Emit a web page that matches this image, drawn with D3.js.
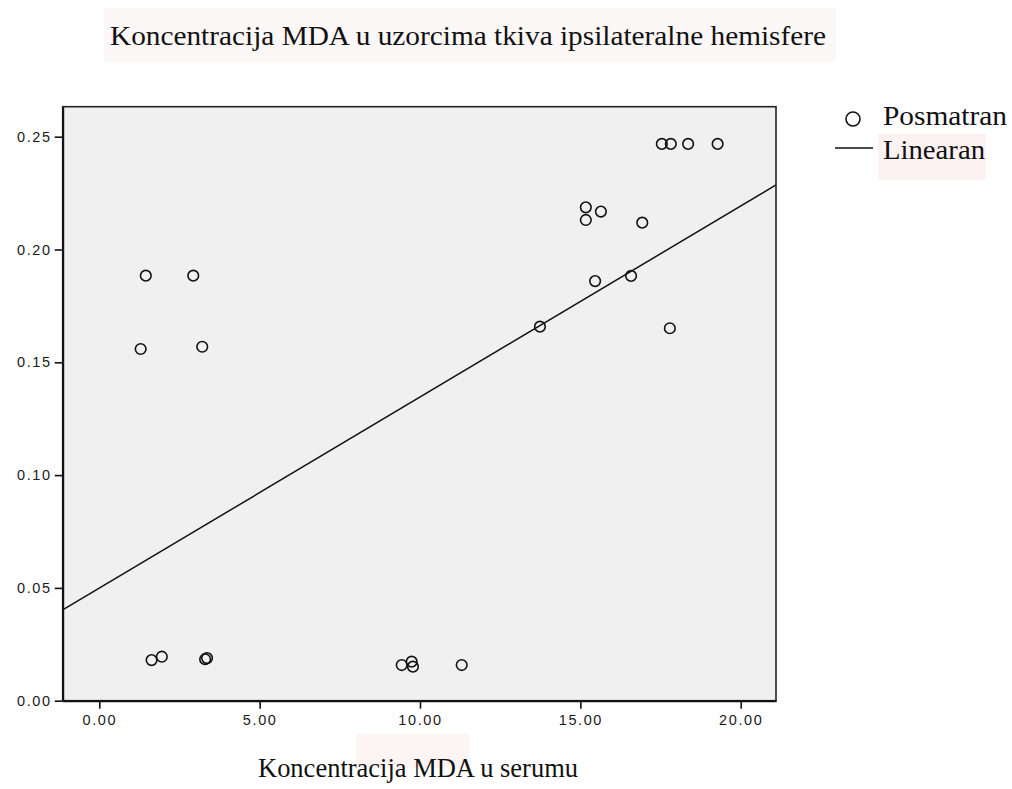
<!DOCTYPE html>
<html>
<head>
<meta charset="utf-8">
<script src="https://cdn.jsdelivr.net/npm/d3@7/dist/d3.min.js"></script>
<style>
  html, body { margin: 0; padding: 0; background: #ffffff; }
  svg { display: block; }
</style>
</head>
<body>
<svg id="chart" width="1012" height="789"></svg>
<script>
// Serum MDA (x) vs. tissue MDA in the ipsilateral hemisphere (y)
const serumMDA = [1.45, 2.93, 1.29, 3.21, 1.63, 1.95, 3.30, 3.36,
                  9.43, 9.74, 9.78, 11.30, 13.74, 15.17, 15.17, 15.64,
                  15.46, 16.58, 16.93, 17.79, 17.54, 17.82, 18.36, 19.28];
const tissueMDA = [0.1884, 0.1884, 0.1559, 0.1569, 0.0180, 0.0195, 0.0184, 0.0189,
                   0.0158, 0.0173, 0.0151, 0.0158, 0.1658, 0.2187, 0.2131, 0.2168,
                   0.1860, 0.1883, 0.2119, 0.1651, 0.2468, 0.2468, 0.2468, 0.2468];

// Linear fit shown on the plot
const fitIntercept = 0.0499;
const fitSlope = 0.00847;

const xTicks = [0, 5, 10, 15, 20];
const yTicks = [0, 0.05, 0.10, 0.15, 0.20, 0.25];
const xDomain = [-1.141, 21.10];
const yDomain = [0, 0.2633];

const titleText = "Koncentracija MDA u uzorcima tkiva ipsilateralne hemisfere";
const xTitleText = "Koncentracija MDA u serumu";
const legendLabels = ["Posmatran", "Linearan"];

const svg = d3.select("#chart");
const plot = { left: 62.7, top: 106.7, right: 776, bottom: 700.7 };

const x = d3.scaleLinear().domain(xDomain).range([plot.left, plot.right]);
const y = d3.scaleLinear().domain(yDomain).range([plot.bottom, plot.top]);

const serif = "Liberation Serif, Times New Roman, serif";

// faint tinted text boxes
svg.append("rect").attr("x", 104).attr("y", 8).attr("width", 732).attr("height", 54)
  .attr("fill", "#fdf8f8");
svg.append("rect").attr("x", 878).attr("y", 134).attr("width", 108).attr("height", 46)
  .attr("fill", "#fcf2f2");
svg.append("rect").attr("x", 356).attr("y", 734).attr("width", 114).attr("height", 34)
  .attr("fill", "#fdf4f4");

// title
svg.append("text")
  .attr("x", 468).attr("y", 45)
  .attr("text-anchor", "middle")
  .attr("font-family", serif)
  .attr("font-size", 28)
  .attr("fill", "#111")
  .attr("textLength", 716)
  .attr("lengthAdjust", "spacingAndGlyphs")
  .text(titleText);

// plot background
svg.append("rect")
  .attr("x", plot.left).attr("y", plot.top)
  .attr("width", plot.right - plot.left).attr("height", plot.bottom - plot.top)
  .attr("fill", "#f0f0f0");

svg.append("clipPath").attr("id", "plotClip")
  .append("rect")
  .attr("x", plot.left).attr("y", plot.top)
  .attr("width", plot.right - plot.left).attr("height", plot.bottom - plot.top);

// fit line
const lineGen = d3.line().x(d => x(d)).y(d => y(fitIntercept + fitSlope * d));
svg.append("path")
  .datum(xDomain)
  .attr("clip-path", "url(#plotClip)")
  .attr("d", lineGen)
  .attr("fill", "none")
  .attr("stroke", "#111")
  .attr("stroke-width", 1.5);

// observed points
const pts = serumMDA.map((v, i) => [v, tissueMDA[i]]);
svg.append("g").selectAll("circle")
  .data(pts)
  .join("circle")
  .attr("cx", d => x(d[0]))
  .attr("cy", d => y(d[1]))
  .attr("r", 5.3)
  .attr("fill", "none")
  .attr("stroke", "#111")
  .attr("stroke-width", 1.6);

// frame
svg.append("rect")
  .attr("x", plot.left).attr("y", plot.top)
  .attr("width", plot.right - plot.left).attr("height", plot.bottom - plot.top)
  .attr("fill", "none")
  .attr("stroke", "#222")
  .attr("stroke-width", 1.6);

// axes
const tickFont = "Liberation Sans, Arial, sans-serif";
const xAxis = d3.axisBottom(x).tickValues(xTicks).tickFormat(d3.format(".2f"))
  .tickSize(8).tickSizeOuter(0).tickPadding(6);
const gx = svg.append("g").attr("transform", `translate(0,${plot.bottom})`).call(xAxis);
const yAxis = d3.axisLeft(y).tickValues(yTicks).tickFormat(d3.format(".2f"))
  .tickSize(8).tickSizeOuter(0).tickPadding(3);
const gy = svg.append("g").attr("transform", `translate(${plot.left},0)`).call(yAxis);

[gx, gy].forEach(g => {
  g.select(".domain").attr("stroke", "#111").attr("stroke-width", 2);
  g.selectAll(".tick line").attr("stroke", "#111").attr("stroke-width", 1.6);
  g.selectAll(".tick text")
    .attr("font-family", tickFont)
    .attr("font-size", 14.5)
    .attr("letter-spacing", 1.6)
    .attr("fill", "#1a1a1a");
});

// x-axis title
svg.append("text")
  .attr("x", 418).attr("y", 777)
  .attr("text-anchor", "middle")
  .attr("font-family", serif)
  .attr("font-size", 28)
  .attr("fill", "#111")
  .attr("textLength", 320)
  .attr("lengthAdjust", "spacingAndGlyphs")
  .text(xTitleText);

// legend
svg.append("circle")
  .attr("cx", 853).attr("cy", 119).attr("r", 7)
  .attr("fill", "none").attr("stroke", "#111").attr("stroke-width", 1.6);
svg.append("text")
  .attr("x", 883).attr("y", 125)
  .attr("font-family", serif).attr("font-size", 27).attr("fill", "#111")
  .attr("textLength", 124).attr("lengthAdjust", "spacingAndGlyphs")
  .text(legendLabels[0]);
svg.append("line")
  .attr("x1", 835).attr("x2", 873).attr("y1", 148).attr("y2", 148)
  .attr("stroke", "#111").attr("stroke-width", 1.6);
svg.append("text")
  .attr("x", 883).attr("y", 159)
  .attr("font-family", serif).attr("font-size", 27).attr("fill", "#111")
  .attr("textLength", 102).attr("lengthAdjust", "spacingAndGlyphs")
  .text(legendLabels[1]);
</script>
</body>
</html>
